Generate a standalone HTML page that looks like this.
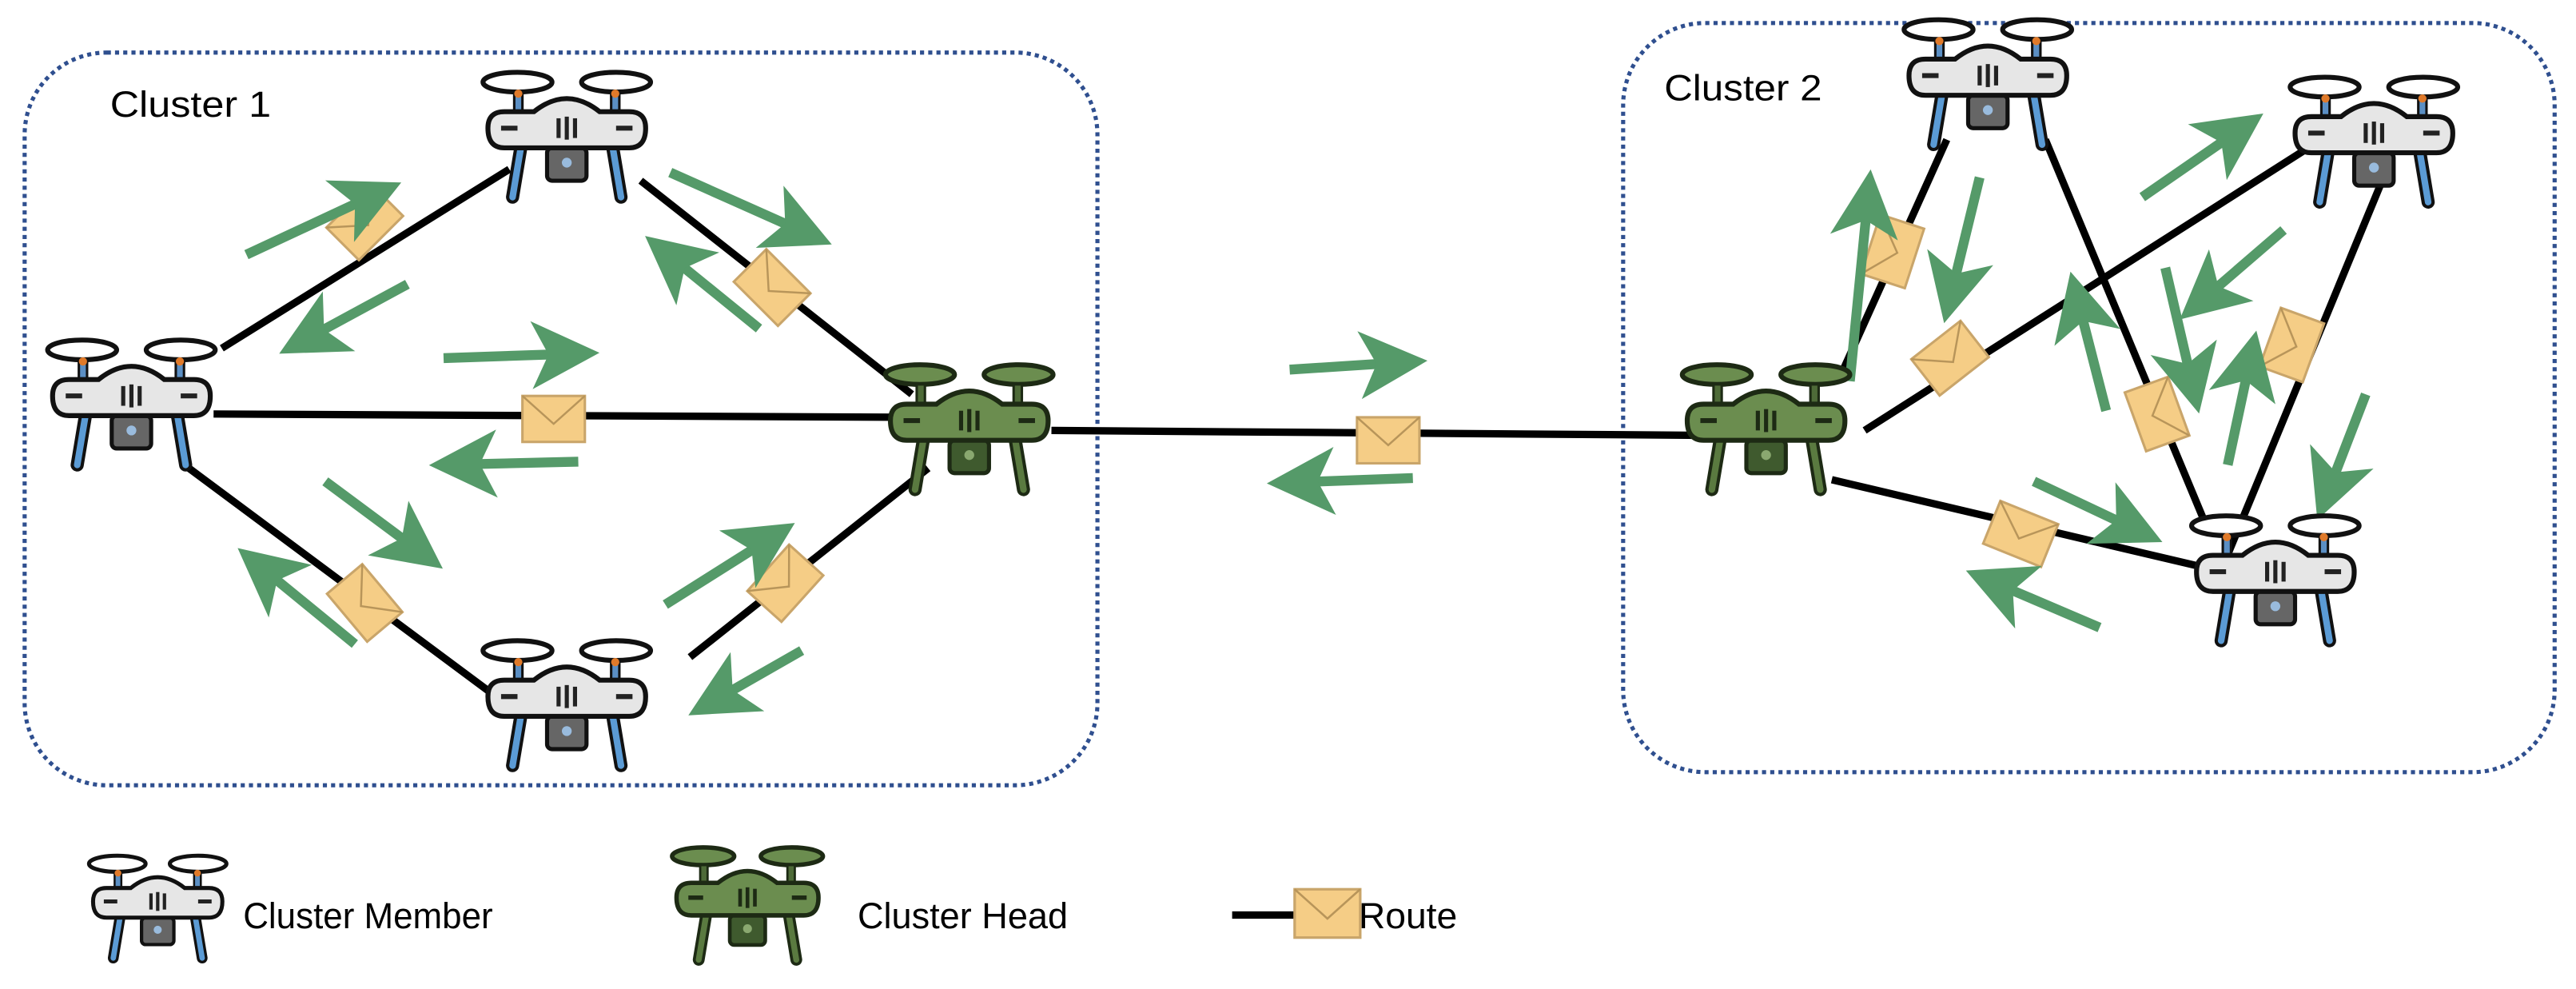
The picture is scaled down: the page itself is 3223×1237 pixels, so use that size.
<!DOCTYPE html>
<html><head><meta charset="utf-8"><style>
html,body{margin:0;padding:0;background:#fff;}
svg{display:block;}
</style></head><body>
<svg width="3223" height="1237" viewBox="0 0 1568 602" preserveAspectRatio="none" xmlns="http://www.w3.org/2000/svg">
<defs>
<marker id="ah" markerUnits="userSpaceOnUse" markerWidth="46" markerHeight="46" viewBox="0 0 40 40" refX="30" refY="20" orient="auto">
<path d="M0,2 L36,20 L0,38 L9,20 Z" fill="#559a69"/>
</marker>
<g id="env">
<rect x="-19" y="-14" width="38" height="28" fill="#f5cd86" stroke="#c9a56a" stroke-width="1.5"/>
<path d="M-19,-14 L0,3 L19,-14" fill="none" stroke="#b8955a" stroke-width="1.2"/>
</g>
<g id="drone">
<ellipse cx="-30" cy="-32" rx="21" ry="6" fill="#fff" stroke="#111" stroke-width="3"/>
<ellipse cx="30" cy="-32" rx="21" ry="6" fill="#fff" stroke="#111" stroke-width="3"/>
<rect x="-32" y="-26" width="5" height="14" fill="#5b8fc4" stroke="#111" stroke-width="1.5"/>
<rect x="27" y="-26" width="5" height="14" fill="#5b8fc4" stroke="#111" stroke-width="1.5"/>
<circle cx="-29.5" cy="-25" r="2.5" fill="#e07a2a"/>
<circle cx="29.5" cy="-25" r="2.5" fill="#e07a2a"/>
<line x1="-28" y1="8" x2="-33" y2="38" stroke="#111" stroke-width="8" stroke-linecap="round"/>
<line x1="28" y1="8" x2="33" y2="38" stroke="#111" stroke-width="8" stroke-linecap="round"/>
<line x1="-28" y1="8" x2="-33" y2="38" stroke="#5b9bd5" stroke-width="4" stroke-linecap="round"/>
<line x1="28" y1="8" x2="33" y2="38" stroke="#5b9bd5" stroke-width="4" stroke-linecap="round"/>
<rect x="-12" y="8" width="24" height="20" rx="3" fill="#666" stroke="#111" stroke-width="2.5"/>
<circle cx="0" cy="17" r="3" fill="#9bd"/>
<path d="M-48,-4 Q-48,-14 -38,-14 L-20,-14 Q-10,-22 0,-22 Q10,-22 20,-14 L38,-14 Q48,-14 48,-4 Q48,8 38,8 L-38,8 Q-48,8 -48,-4 Z" fill="#e6e6e6" stroke="#111" stroke-width="3"/>
<line x1="-40" y1="-4" x2="-30" y2="-4" stroke="#222" stroke-width="3"/>
<line x1="30" y1="-4" x2="40" y2="-4" stroke="#222" stroke-width="3"/>
<line x1="-5" y1="-10" x2="-5" y2="2" stroke="#222" stroke-width="2.5"/>
<line x1="0" y1="-11" x2="0" y2="3" stroke="#222" stroke-width="2.5"/>
<line x1="5" y1="-10" x2="5" y2="2" stroke="#222" stroke-width="2.5"/>
</g>
<g id="head">
<ellipse cx="-30" cy="-32" rx="21" ry="6" fill="#6b8d4f" stroke="#1d2a14" stroke-width="3"/>
<ellipse cx="30" cy="-32" rx="21" ry="6" fill="#6b8d4f" stroke="#1d2a14" stroke-width="3"/>
<rect x="-32" y="-26" width="5" height="14" fill="#4e6b38" stroke="#1d2a14" stroke-width="1.5"/>
<rect x="27" y="-26" width="5" height="14" fill="#4e6b38" stroke="#1d2a14" stroke-width="1.5"/>
<line x1="-28" y1="8" x2="-33" y2="38" stroke="#1d2a14" stroke-width="8" stroke-linecap="round"/>
<line x1="28" y1="8" x2="33" y2="38" stroke="#1d2a14" stroke-width="8" stroke-linecap="round"/>
<line x1="-28" y1="8" x2="-33" y2="38" stroke="#5a7a40" stroke-width="4" stroke-linecap="round"/>
<line x1="28" y1="8" x2="33" y2="38" stroke="#5a7a40" stroke-width="4" stroke-linecap="round"/>
<rect x="-12" y="8" width="24" height="20" rx="3" fill="#3f5a2e" stroke="#1d2a14" stroke-width="2.5"/>
<circle cx="0" cy="17" r="3" fill="#8aa870"/>
<path d="M-48,-4 Q-48,-14 -38,-14 L-20,-14 Q-10,-22 0,-22 Q10,-22 20,-14 L38,-14 Q48,-14 48,-4 Q48,8 38,8 L-38,8 Q-48,8 -48,-4 Z" fill="#6b8d4f" stroke="#1d2a14" stroke-width="3"/>
<line x1="-40" y1="-4" x2="-30" y2="-4" stroke="#1d2a14" stroke-width="3"/>
<line x1="30" y1="-4" x2="40" y2="-4" stroke="#1d2a14" stroke-width="3"/>
<line x1="-5" y1="-10" x2="-5" y2="2" stroke="#1d2a14" stroke-width="2.5"/>
<line x1="0" y1="-11" x2="0" y2="3" stroke="#1d2a14" stroke-width="2.5"/>
<line x1="5" y1="-10" x2="5" y2="2" stroke="#1d2a14" stroke-width="2.5"/>
</g>
</defs>

<rect x="15" y="32" width="653" height="446" rx="50" fill="none" stroke="#2f4f8f" stroke-width="2.5" stroke-dasharray="2.5,2.5"/>
<rect x="988" y="14" width="567" height="456" rx="50" fill="none" stroke="#2f4f8f" stroke-width="2.5" stroke-dasharray="2.5,2.5"/>
<text x="67" y="71" font-family="Liberation Sans, sans-serif" font-size="22" textLength="98" lengthAdjust="spacingAndGlyphs" fill="#000">Cluster 1</text>
<text x="1013" y="61" font-family="Liberation Sans, sans-serif" font-size="22" textLength="96" lengthAdjust="spacingAndGlyphs" fill="#000">Cluster 2</text>

<g stroke="#000" stroke-width="4.5" fill="none">
<line x1="310" y1="103" x2="135" y2="212"/>
<line x1="390" y1="110" x2="555" y2="240"/>
<line x1="130" y1="252" x2="550" y2="254"/>
<line x1="115" y1="285" x2="310" y2="430"/>
<line x1="420" y1="400" x2="565" y2="285"/>
<line x1="640" y1="262" x2="1035" y2="265"/>
<line x1="1122" y1="225" x2="1185" y2="85"/>
<line x1="1135" y1="262" x2="1405" y2="90"/>
<line x1="1115" y1="292" x2="1340" y2="345"/>
<line x1="1245" y1="85" x2="1345" y2="325"/>
<line x1="1450" y1="110" x2="1355" y2="340"/>
<line x1="750" y1="557" x2="795" y2="557"/>
</g>

<use href="#env" transform="translate(222,135) rotate(-45)"/>
<use href="#env" transform="translate(470,175) rotate(45)"/>
<use href="#env" transform="translate(337,255)"/>
<use href="#env" transform="translate(222,367) rotate(50)"/>
<use href="#env" transform="translate(478,355) rotate(-48)"/>
<use href="#env" transform="translate(845,268)"/>
<use href="#env" transform="translate(1152,153) rotate(-72)"/>
<use href="#env" transform="translate(1187,218) rotate(-38)"/>
<use href="#env" transform="translate(1313,252) rotate(70)"/>
<use href="#env" transform="translate(1395,210) rotate(-70)"/>
<use href="#env" transform="translate(1230,325) rotate(22)"/>
<use href="#env" transform="translate(808,556) scale(1.05)"/>

<g stroke="#559a69" stroke-width="6" fill="none" marker-end="url(#ah)">
<line x1="150" y1="155" x2="238" y2="114"/>
<line x1="248" y1="173" x2="176" y2="212"/>
<line x1="408" y1="105" x2="500" y2="146"/>
<line x1="462" y1="200" x2="398" y2="148"/>
<line x1="270" y1="218" x2="358" y2="215"/>
<line x1="352" y1="281" x2="268" y2="283"/>
<line x1="198" y1="293" x2="264" y2="342"/>
<line x1="216" y1="392" x2="150" y2="338"/>
<line x1="405" y1="368" x2="478" y2="322"/>
<line x1="488" y1="396" x2="425" y2="432"/>
<line x1="785" y1="225" x2="862" y2="220"/>
<line x1="860" y1="291" x2="778" y2="294"/>
<line x1="1126" y1="232" x2="1138" y2="110"/>
<line x1="1205" y1="108" x2="1185" y2="190"/>
<line x1="1304" y1="120" x2="1372" y2="73"/>
<line x1="1390" y1="140" x2="1332" y2="190"/>
<line x1="1282" y1="250" x2="1262" y2="172"/>
<line x1="1318" y1="163" x2="1337" y2="245"/>
<line x1="1356" y1="283" x2="1372" y2="208"/>
<line x1="1440" y1="240" x2="1413" y2="310"/>
<line x1="1238" y1="293" x2="1310" y2="327"/>
<line x1="1278" y1="382" x2="1203" y2="350"/>
</g>

<use href="#drone" transform="translate(345,82)"/>
<use href="#drone" transform="translate(80,245)"/>
<use href="#drone" transform="translate(345,428)"/>
<use href="#head" transform="translate(590,260)"/>
<use href="#head" transform="translate(1075,260)"/>
<use href="#drone" transform="translate(1210,50)"/>
<use href="#drone" transform="translate(1445,85)"/>
<use href="#drone" transform="translate(1385,352)"/>

<use href="#drone" transform="translate(96,552) scale(0.82)"/>
<text x="148" y="565" font-family="Liberation Sans, sans-serif" font-size="22" textLength="152" lengthAdjust="spacingAndGlyphs" fill="#000">Cluster Member</text>
<use href="#head" transform="translate(455,550) scale(0.9)"/>
<text x="522" y="565" font-family="Liberation Sans, sans-serif" font-size="22" textLength="128" lengthAdjust="spacingAndGlyphs" fill="#000">Cluster Head</text>
<text x="827" y="565" font-family="Liberation Sans, sans-serif" font-size="22" textLength="60" lengthAdjust="spacingAndGlyphs" fill="#000">Route</text>
</svg>
</body></html>
